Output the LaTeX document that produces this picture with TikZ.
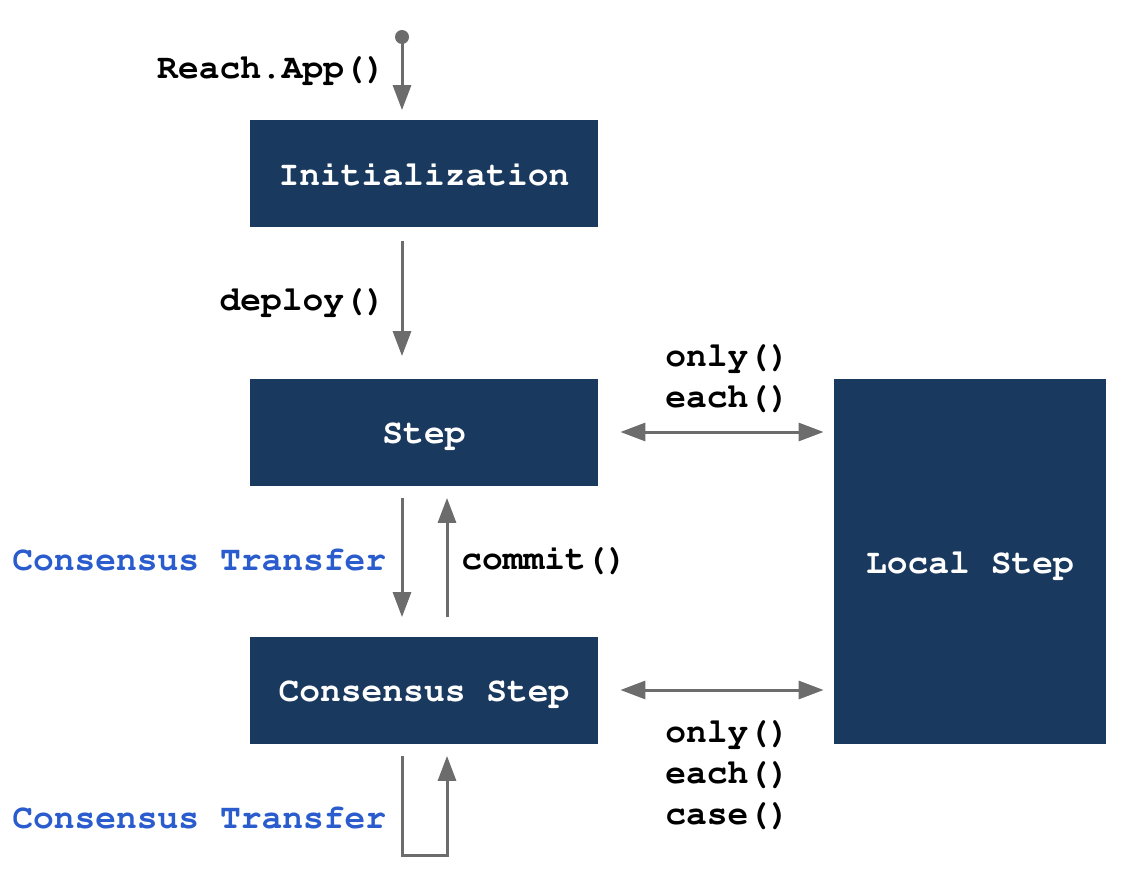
\documentclass[tikz,border=0pt]{standalone}
\usepackage[T1]{fontenc}
\renewcommand{\ttdefault}{pcr}
\usetikzlibrary{arrows.meta}
\definecolor{stepnavy}{RGB}{26,57,95}
\definecolor{flowgray}{RGB}{108,108,108}
\definecolor{xferblue}{RGB}{42,92,205}
\begin{document}
\begin{tikzpicture}[x=0.5pt, y=-0.5pt, >={Triangle[length=12.5pt,width=9pt]},
    codefont/.style={font=\fontsize{17.3}{20.5}\selectfont\ttfamily\bfseries},
    stepbox/.style={codefont, fill=stepnavy, text=white, inner sep=0pt, text height=11.5pt, text depth=0pt, minimum width=174pt, minimum height=53.5pt},
    lbl/.style={codefont, inner sep=0pt, align=left},
    flow/.style={flowgray, line width=1.5pt, ->}]
  \useasboundingbox (0,0) rectangle (1130,882);
  \foreach \nm/\y/\txt in {init/174/Initialization, step/432/Step, cons/690/Consensus Step}
    \node[stepbox] (\nm) at (424,\y) {\txt};
  \node[stepbox, minimum width=136pt, minimum height=182.5pt] (local) at (970,561.5) {Local Step};
  \coordinate (start) at (402,37);
  \coordinate (back) at (447,600);
  \fill[flowgray] (start) circle (3.5pt);
  \draw[flow, shorten >=5pt] (start) -- (start |- init.north);
  \draw[flow, shorten <=6.5pt, shorten >=11pt] (init.south -| start) -- (step.north -| start);
  \draw[flow, shorten <=6pt, shorten >=9.5pt] (step.south -| start) -- (cons.north -| start);
  \draw[flow, shorten <=9.5pt, shorten >=6pt] (cons.north -| back) -- (step.south -| back);
  \draw[flow, shorten <=6pt, shorten >=6pt] (cons.south -| start) -- ++(0,112) -| (cons.south -| back);
  \foreach \nm in {step, cons}
    \draw[flow, <->, shorten <=11pt, shorten >=5pt] (\nm.east) -- (\nm.east -| local.west);
  \node[lbl, anchor=east] (reach) at (386,70) {Reach.App()};
  \node[lbl, anchor=east] (deploy) at (386,302) {deploy()};
  \node[lbl, anchor=west] (commit) at (461,560) {commit()};
  \foreach \nm/\y in {xferA/560, xferB/818}
    \node[lbl, anchor=west, text=xferblue] (\nm) at (12,\y) {Consensus Transfer};
  \node[lbl, anchor=west] (localA) at (665,377.5) {only()\\each()};
  \node[lbl, anchor=west] (localB) at (665,774.5) {only()\\each()\\case()};
\end{tikzpicture}
\end{document}
